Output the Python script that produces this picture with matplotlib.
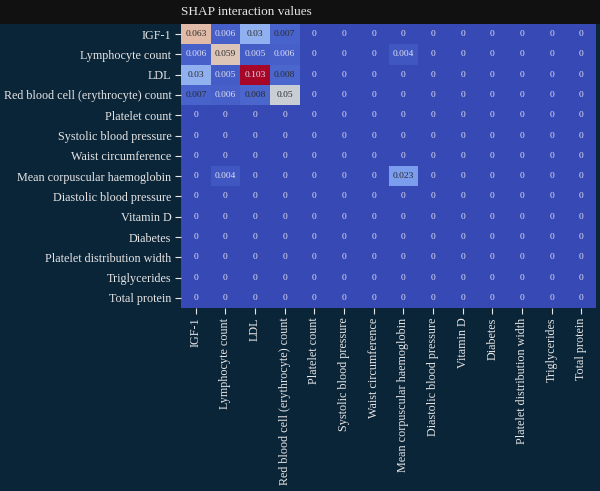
import numpy as np
import matplotlib
matplotlib.use("Agg")
from matplotlib import pyplot as plt
from matplotlib.patches import Rectangle

# Feature names (rows and columns share the same order)
features = [
    "IGF-1",
    "Lymphocyte count",
    "LDL",
    "Red blood cell (erythrocyte) count",
    "Platelet count",
    "Systolic blood pressure",
    "Waist circumference",
    "Mean corpuscular haemoglobin",
    "Diastolic blood pressure",
    "Vitamin D",
    "Diabetes",
    "Platelet distribution width",
    "Triglycerides",
    "Total protein",
]

# Non-zero SHAP interaction values
row_igf1 = [0.063, 0.006, 0.03, 0.007]
row_lymph = [0.006, 0.059, 0.005, 0.006, 0, 0, 0, 0.004]
row_ldl = [0.03, 0.005, 0.103, 0.008]
row_rbc = [0.007, 0.006, 0.008, 0.05]
row_mch = [0, 0.004, 0, 0, 0, 0, 0, 0.023]

n = len(features)
values = np.zeros((n, n))
values[0, :len(row_igf1)] = row_igf1
values[1, :len(row_lymph)] = row_lymph
values[2, :len(row_ldl)] = row_ldl
values[3, :len(row_rbc)] = row_rbc
values[7, :len(row_mch)] = row_mch

bg = "#0b2538"
fg = "#e6e6e6"
plt.rcParams["font.family"] = ["Liberation Serif", "DejaVu Serif"]

fig = plt.figure(figsize=(6.0, 4.91), dpi=100, facecolor=bg)
# black band behind the title
fig.patches.append(Rectangle((0, 1 - 24 / 491), 1, 24 / 491, transform=fig.transFigure,
                             facecolor="#111111", edgecolor="none", zorder=0))

ax = fig.add_axes([181 / 600, 1 - 308 / 491, 415 / 600, 284 / 491])
ax.set_facecolor(bg)

cmap = plt.get_cmap("coolwarm")
vmin, vmax = 0.0, values.max()
ax.pcolormesh(values, cmap=cmap, vmin=vmin, vmax=vmax, alpha=0.93)
ax.set_xlim(0, n)
ax.set_ylim(n, 0)

# cell annotations, dark text on light cells
for i in range(n):
    for j in range(n):
        v = values[i, j]
        r, g, b, _ = cmap((v - vmin) / (vmax - vmin))
        lum = 0.2126 * r + 0.7152 * g + 0.0722 * b
        color = "#2a2a2a" if lum > 0.408 else "#dfe0f2"
        ax.text(j + 0.5, i + 0.5, f"{v:g}", ha="center", va="center",
                fontsize=6.8, color=color)

ax.set_xticks(np.arange(n) + 0.5)
ax.set_yticks(np.arange(n) + 0.5)
ax.set_xticklabels(features, rotation=90, fontsize=8.7, color=fg)
ax.set_yticklabels(features, fontsize=8.7, color=fg)
ax.tick_params(colors=fg, length=4, width=0.8, pad=3)
for s in ax.spines.values():
    s.set_visible(False)

fig.text(181 / 600, 1 - 12 / 491, "SHAP interaction values", ha="left", va="center",
         fontsize=9.5, color=fg)

fig.savefig("out.png", dpi=100, facecolor=bg)
